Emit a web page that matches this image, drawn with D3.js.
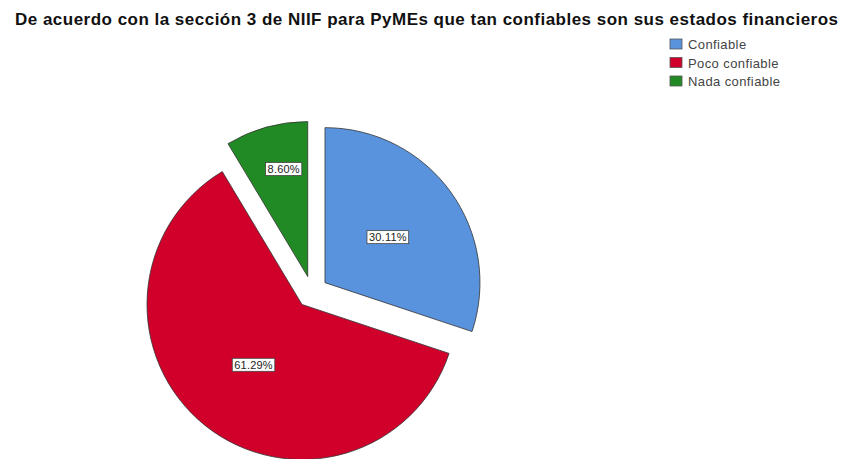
<!DOCTYPE html>
<html>
<head>
<meta charset="utf-8">
<script src="https://cdn.jsdelivr.net/npm/d3@7"></script>
<style>
  html, body { margin: 0; padding: 0; background: #fff; }
  svg { display: block; }
</style>
</head>
<body>
<svg id="chart" width="841" height="459"></svg>
<script>
// Survey answers and their shares (%)
const categories = ["Confiable", "Poco confiable", "Nada confiable"];
const percentages = [30.11, 61.29, 8.60];
const sliceColors = ["#5a93dd", "#d0002a", "#228a25"];
const titleText = "De acuerdo con la sección 3 de NIIF para PyMEs que tan confiables son sus estados financieros";

const svg = d3.select("#chart");

// Title, stretched across the top of the chart
svg.append("text")
  .attr("x", 15)
  .attr("y", 25)
  .attr("font-family", "Liberation Sans, Arial, sans-serif")
  .attr("font-weight", "bold")
  .attr("font-size", 17)
  .attr("fill", "#111")
  .attr("textLength", 823)
  .attr("lengthAdjust", "spacing")
  .text(titleText);

// Pie geometry
const cx = 312, cy = 292, radius = 155, explode = 16;
const data = categories.map((c, i) => ({ name: c, value: percentages[i], color: sliceColors[i] }));

const pie = d3.pie().value(d => d.value).sort(null);
const arc = d3.arc().innerRadius(0).outerRadius(radius);
const arcs = pie(data);

const g = svg.append("g").attr("transform", `translate(${cx},${cy})`);

const slices = g.selectAll("g.slice")
  .data(arcs)
  .join("g")
  .attr("class", "slice")
  .attr("transform", d => {
    const a = (d.startAngle + d.endAngle) / 2;
    return `translate(${explode * Math.sin(a)},${-explode * Math.cos(a)})`;
  });

slices.append("path")
  .attr("d", arc)
  .attr("fill", d => d.data.color)
  .attr("stroke", "#333")
  .attr("stroke-width", 0.8)
  .attr("stroke-linejoin", "round");

// Percentage labels in white boxes
const fmt = v => v.toFixed(2) + "%";
slices.each(function (d) {
  const a = (d.startAngle + d.endAngle) / 2;
  const share = (d.endAngle - d.startAngle) / (2 * Math.PI);
  // narrow slices get their label pushed outward and nudged toward the top
  const rr = radius * (share < 0.15 ? 0.71 : 0.5);
  const la = share < 0.15 ? a + 0.05 : a;
  const x = rr * Math.sin(la), y = -rr * Math.cos(la);
  const lg = d3.select(this).append("g").attr("transform", `translate(${x},${y})`);
  const t = lg.append("text")
    .attr("text-anchor", "middle")
    .attr("dy", "0.35em")
    .attr("font-family", "Liberation Sans, Arial, sans-serif")
    .attr("font-size", 11)
    .attr("letter-spacing", 0.2)
    .attr("fill", "#222")
    .text(fmt(d.data.value));
  const bb = t.node().getBBox();
  lg.insert("rect", "text")
    .attr("x", bb.x - 2)
    .attr("y", bb.y - 0.5)
    .attr("width", bb.width + 4)
    .attr("height", bb.height + 1)
    .attr("fill", "#fff")
    .attr("stroke", "#444")
    .attr("stroke-width", 0.8);
});

// Legend
const legend = svg.append("g").attr("transform", "translate(670,39)");
const rows = legend.selectAll("g")
  .data(data)
  .join("g")
  .attr("transform", (d, i) => `translate(0,${i * 18.5})`);
rows.append("rect")
  .attr("width", 12)
  .attr("height", 10)
  .attr("fill", d => d.color)
  .attr("stroke", "#555")
  .attr("stroke-width", 0.8);
rows.append("text")
  .attr("x", 18)
  .attr("y", 10)
  .attr("font-family", "Liberation Sans, Arial, sans-serif")
  .attr("font-size", 13)
  .attr("letter-spacing", 0.4)
  .attr("fill", "#444")
  .text(d => d.name);
</script>
</body>
</html>
